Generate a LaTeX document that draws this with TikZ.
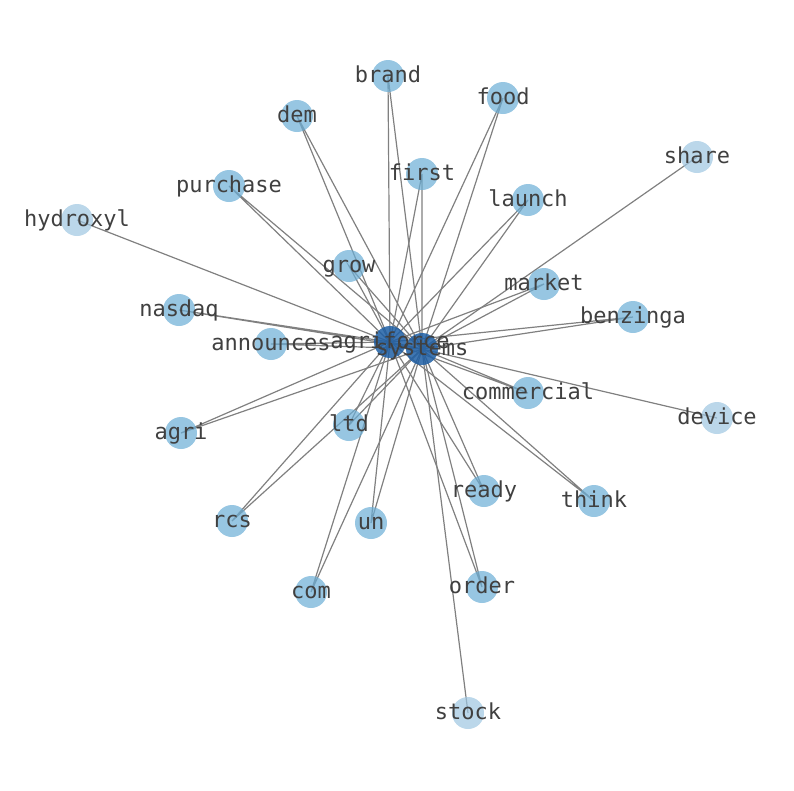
\documentclass[tikz,border=0pt]{standalone}
\usepackage{fontspec}
\setmonofont{DejaVu Sans Mono}
\usepackage{tikz}
\usetikzlibrary{backgrounds}
\definecolor{hubblue}{RGB}{30,95,165}
\definecolor{termblue}{RGB}{107,174,214}
\definecolor{rareblue}{RGB}{158,198,225}

\begin{document}
\begin{tikzpicture}[
    x=1pt, y=-1pt,
    font=\ttfamily\fontsize{22}{26}\selectfont,
    hub/.style={circle, draw=none, fill=hubblue, fill opacity=0.85,
                minimum size=32pt, inner sep=0pt},
    term/.style={circle, draw=none, fill=termblue, fill opacity=0.7,
                 minimum size=32pt, inner sep=0pt},
    rare/.style={circle, draw=none, fill=rareblue, fill opacity=0.7,
                 minimum size=32pt, inner sep=0pt},
    word/.style={text=black!75, inner sep=0pt, anchor=base, yshift=-6pt},
    link/.style={line width=1.2pt, black!50}
]
\useasboundingbox (0,0) rectangle (794,790);
% the two hubs
\node[hub] (agriforce) at (390,342) {};
\node[hub] (systems) at (422,349) {};
% terms linked to both hubs
\node[term] (brand) at (388,76) {};
\node[term] (dem) at (297,116) {};
\node[term] (food) at (503,98) {};
\node[term] (first) at (422,174) {};
\node[term] (purchase) at (229,186) {};
\node[term] (launch) at (528,200) {};
\node[term] (grow) at (349,266) {};
\node[term] (market) at (544,284) {};
\node[term] (nasdaq) at (179,310) {};
\node[term] (benzinga) at (633,317) {};
\node[term] (announces) at (271,344) {};
\node[term] (commercial) at (528,393) {};
\node[term] (agri) at (181,433) {};
\node[term] (ltd) at (349,425) {};
\node[term] (ready) at (484,491) {};
\node[term] (think) at (594,501) {};
\node[term] (rcs) at (232,521) {};
\node[term] (un) at (371,523) {};
\node[term] (com) at (311,592) {};
\node[term] (order) at (482,587) {};
% terms linked to one hub
\node[rare] (hydroxyl) at (77,220) {};
\node[rare] (share) at (697,157) {};
\node[rare] (device) at (717,418) {};
\node[rare] (stock) at (468,713) {};

\begin{pgfonlayer}{background}
\draw[link] (agriforce.center) -- (systems.center);
\draw[link] (agriforce.center) -- (brand.center) -- (systems.center);
\draw[link] (agriforce.center) -- (dem.center) -- (systems.center);
\draw[link] (agriforce.center) -- (food.center) -- (systems.center);
\draw[link] (agriforce.center) -- (first.center) -- (systems.center);
\draw[link] (agriforce.center) -- (purchase.center) -- (systems.center);
\draw[link] (agriforce.center) -- (launch.center) -- (systems.center);
\draw[link] (agriforce.center) -- (grow.center) -- (systems.center);
\draw[link] (agriforce.center) -- (market.center) -- (systems.center);
\draw[link] (agriforce.center) -- (nasdaq.center) -- (systems.center);
\draw[link] (agriforce.center) -- (benzinga.center) -- (systems.center);
\draw[link] (agriforce.center) -- (announces.center) -- (systems.center);
\draw[link] (agriforce.center) -- (commercial.center) -- (systems.center);
\draw[link] (agriforce.center) -- (agri.center) -- (systems.center);
\draw[link] (agriforce.center) -- (ltd.center) -- (systems.center);
\draw[link] (agriforce.center) -- (ready.center) -- (systems.center);
\draw[link] (agriforce.center) -- (think.center) -- (systems.center);
\draw[link] (agriforce.center) -- (rcs.center) -- (systems.center);
\draw[link] (agriforce.center) -- (un.center) -- (systems.center);
\draw[link] (agriforce.center) -- (com.center) -- (systems.center);
\draw[link] (agriforce.center) -- (order.center) -- (systems.center);
\draw[link] (agriforce.center) -- (hydroxyl.center);
\draw[link] (systems.center) -- (share.center);
\draw[link] (systems.center) -- (device.center);
\draw[link] (systems.center) -- (stock.center);
\end{pgfonlayer}

% labels on top
\node[word] (agriforce-w) at (agriforce) {agriforce};
\node[word] (systems-w) at (systems) {systems};
\node[word] (brand-w) at (brand) {brand};
\node[word] (dem-w) at (dem) {dem};
\node[word] (food-w) at (food) {food};
\node[word] (first-w) at (first) {first};
\node[word] (purchase-w) at (purchase) {purchase};
\node[word] (launch-w) at (launch) {launch};
\node[word] (grow-w) at (grow) {grow};
\node[word] (market-w) at (market) {market};
\node[word] (nasdaq-w) at (nasdaq) {nasdaq};
\node[word] (benzinga-w) at (benzinga) {benzinga};
\node[word] (announces-w) at (announces) {announces};
\node[word] (commercial-w) at (commercial) {commercial};
\node[word] (agri-w) at (agri) {agri};
\node[word] (ltd-w) at (ltd) {ltd};
\node[word] (ready-w) at (ready) {ready};
\node[word] (think-w) at (think) {think};
\node[word] (rcs-w) at (rcs) {rcs};
\node[word] (un-w) at (un) {un};
\node[word] (com-w) at (com) {com};
\node[word] (order-w) at (order) {order};
\node[word] (hydroxyl-w) at (hydroxyl) {hydroxyl};
\node[word] (share-w) at (share) {share};
\node[word] (device-w) at (device) {device};
\node[word] (stock-w) at (stock) {stock};
\end{tikzpicture}
\end{document}
